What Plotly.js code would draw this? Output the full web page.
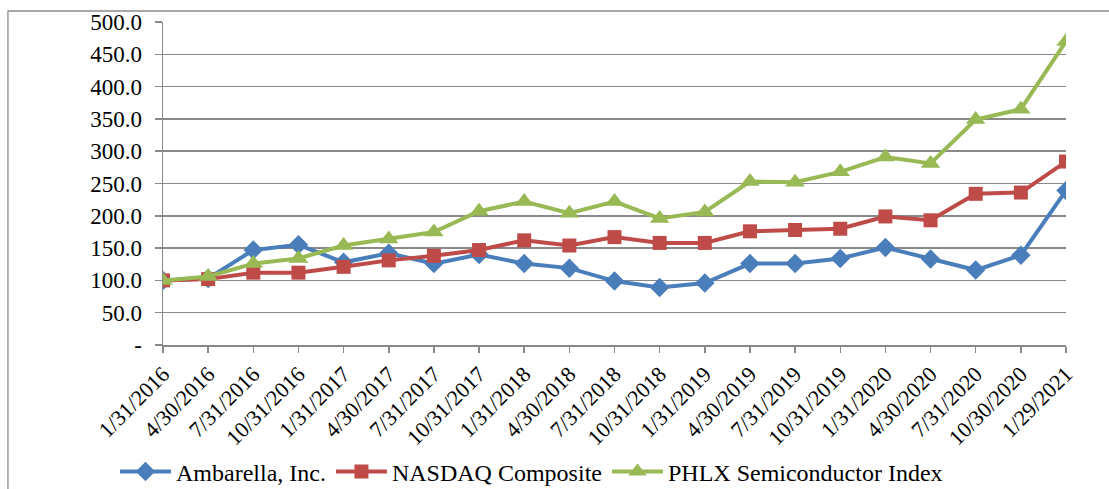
<!DOCTYPE html>
<html>
<head>
<meta charset="utf-8">
<script src="https://cdn.plot.ly/plotly-3.0.1.min.js"></script>
<style>
html,body{margin:0;padding:0;background:#fff;overflow:hidden;width:1109px;height:489px;}
#chart{width:1109px;height:520px;}
</style>
</head>
<body>
<div id="chart"></div>
<script>
var dates = ["1/31/2016","4/30/2016","7/31/2016","10/31/2016","1/31/2017","4/30/2017","7/31/2017","10/31/2017","1/31/2018","4/30/2018","7/31/2018","10/31/2018","1/31/2019","4/30/2019","7/31/2019","10/31/2019","1/31/2020","4/30/2020","7/31/2020","10/30/2020","1/29/2021"];
var ambarella = [100,103,147,155,128,142,126,140,126,119,99,89,96,126,126,134,151,133,116,139,239];
var nasdaq = [100,102,112,112,121,131,138,147,162,154,167,158,158,176,178,180,199,193,234,236,284];
var phlx = [100,106,126,134,154,164,175,207,222,204,222,196,206,253,252,268,291,281,349,365,470];
var seriesNames = ["Ambarella, Inc.","NASDAQ Composite","PHLX Semiconductor Index"];
var yTickVals = [0,50,100,150,200,250,300,350,400,450,500];
var yTickText = ["-","50.0","100.0","150.0","200.0","250.0","300.0","350.0","400.0","450.0","500.0"];

var FONT = "'Liberation Serif', 'Times New Roman', Times, serif";
var traces = [
  {x: dates, y: ambarella, name: seriesNames[0], type: "scatter", mode: "lines+markers",
   line: {color: "#4A7EBB", width: 4}, marker: {symbol: "diamond", size: 15, color: "#4A7EBB"}},
  {x: dates, y: nasdaq, name: seriesNames[1], type: "scatter", mode: "lines+markers",
   line: {color: "#BE4B48", width: 4}, marker: {symbol: "square", size: 14, color: "#BE4B48"}},
  {x: dates, y: phlx, name: seriesNames[2], type: "scatter", mode: "lines+markers",
   line: {color: "#98B954", width: 4}, marker: {symbol: "triangle-up", size: 17, color: "#98B954"}}
];

var H = 520;
var layout = {
  width: 1109, height: H,
  margin: {l: 163, r: 43, t: 22, b: H - 345, pad: 0},
  paper_bgcolor: "#ffffff", plot_bgcolor: "#ffffff",
  font: {family: FONT, size: 22, color: "#000000"},
  showlegend: true,
  legend: {orientation: "h", x: (115 - 163) / 903, xanchor: "left", y: (345 - 472) / 323, yanchor: "middle",
           font: {family: FONT, size: 24, color: "#000"}, itemwidth: 51, tracegroupgap: 0,
           bgcolor: "rgba(0,0,0,0)"},
  xaxis: {type: "category", range: [0, 20], showgrid: false, zeroline: false,
          showline: true, linecolor: "#898989", linewidth: 1.5,
          ticks: "outside", ticklen: 6, tickcolor: "#898989", tickwidth: 1.5,
          tickangle: -45, tickfont: {family: FONT, size: 22, color: "#000"}},
  yaxis: {range: [0, 500], tickvals: yTickVals, ticktext: yTickText,
          showgrid: true, gridcolor: "#898989", gridwidth: 1.5, zeroline: false,
          showline: true, linecolor: "#898989", linewidth: 1.5,
          ticks: "outside", ticklen: 7, tickcolor: "#898989", tickwidth: 1.5,
          ticklabelstandoff: 8,
          tickfont: {family: FONT, size: 23, color: "#000"}},
  shapes: [
    {type: "rect", xref: "paper", yref: "paper", x0: -0.1717, x1: 1.2, y0: -0.6, y1: 1.034,
     line: {color: "#8c8c8c", width: 1.3}, fillcolor: "rgba(0,0,0,0)", layer: "below"}
  ]
};

Plotly.newPlot("chart", traces, layout, {displayModeBar: false, staticPlot: true});
</script>
</body>
</html>
